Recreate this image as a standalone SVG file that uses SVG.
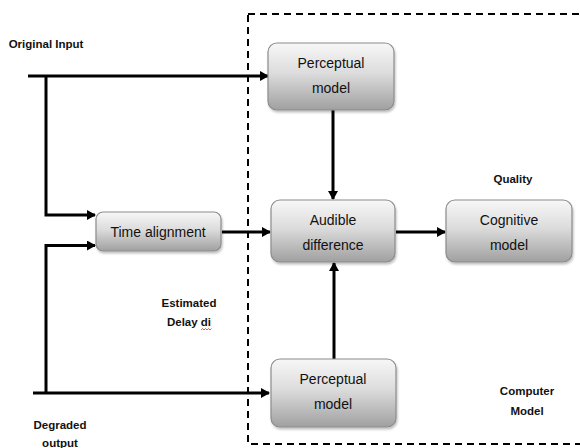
<svg xmlns="http://www.w3.org/2000/svg" width="580" height="448" viewBox="0 0 580 448">
<style>
.box{fill:url(#g);stroke:#8c8c8c;stroke-width:1.2;filter:url(#sh)}
.nt{font-family:"Liberation Sans",Arial,sans-serif;font-size:14px;fill:#111;text-anchor:middle}
.lb{font-family:"Liberation Sans",Arial,sans-serif;font-size:11.5px;font-weight:bold;fill:#111;text-anchor:middle}
.ln{fill:none;stroke:#000;stroke-width:3}
.dash{fill:none;stroke:#000;stroke-width:2;stroke-dasharray:7 5}
</style>
<defs>
<linearGradient id="g" x1="0" y1="0" x2="0" y2="1">
<stop offset="0" stop-color="#f7f7f7"/>
<stop offset="0.45" stop-color="#dcdcdc"/>
<stop offset="1" stop-color="#a0a0a0"/>
</linearGradient>
<filter id="sh" x="-10%" y="-10%" width="125%" height="130%">
<feDropShadow dx="1" dy="2" stdDeviation="1.2" flood-color="#000" flood-opacity="0.25"/>
</filter>
<marker id="ar" markerWidth="10" markerHeight="10" refX="8" refY="5" orient="auto" markerUnits="userSpaceOnUse">
<path d="M0,0 L9,5 L0,10 Z" fill="#000"/>
</marker>
</defs>
<rect class="dash" x="248" y="14" width="360" height="430"/>
<g id="connectors">
<path class="ln" d="M28,76 H268" marker-end="url(#ar)"/>
<path class="ln" d="M46,76 V215 H95" marker-end="url(#ar)"/>
<path class="ln" d="M33,393 H269" marker-end="url(#ar)"/>
<path class="ln" d="M46,393 V245.5 H95" marker-end="url(#ar)"/>
<path class="ln" d="M222,232 H270" marker-end="url(#ar)"/>
<path class="ln" d="M333,110 V199" marker-end="url(#ar)"/>
<path class="ln" d="M396,232 H445" marker-end="url(#ar)"/>
<path class="ln" d="M334,359 V263" marker-end="url(#ar)"/>
</g>
<g id="perceptual-top">
<rect class="box" x="268" y="43" width="126" height="67" rx="9"/>
<text class="nt" x="331" y="68">Perceptual</text>
<text class="nt" x="331" y="93">model</text>
</g>
<g id="time-alignment">
<rect class="box" x="96" y="212" width="125" height="39" rx="7"/>
<text class="nt" x="158" y="237">Time alignment</text>
</g>
<g id="audible-difference">
<rect class="box" x="271" y="200" width="124" height="62" rx="9"/>
<text class="nt" x="333" y="225">Audible</text>
<text class="nt" x="333" y="250">difference</text>
</g>
<g id="cognitive-model">
<rect class="box" x="446" y="200" width="126" height="62" rx="9"/>
<text class="nt" x="509" y="225">Cognitive</text>
<text class="nt" x="509" y="250">model</text>
</g>
<g id="perceptual-bottom">
<rect class="box" x="271" y="359" width="125" height="68" rx="9"/>
<text class="nt" x="333" y="384">Perceptual</text>
<text class="nt" x="333" y="409">model</text>
</g>
<g id="labels">
<text class="lb" x="46" y="48">Original Input</text>
<text class="lb" x="513" y="183">Quality</text>
<text class="lb" x="189" y="307">Estimated</text>
<text class="lb" x="189" y="326">Delay di</text>
<path d="M201,330 l1.5,-1.5 l1.5,1.5 l1.5,-1.5 l1.5,1.5 l1.5,-1.5 l1.5,1.5 l1.5,-1.5" fill="none" stroke="#e03030" stroke-width="0.8"/>
<text class="lb" x="527" y="395">Computer</text>
<text class="lb" x="527" y="415">Model</text>
<text class="lb" x="60" y="429">Degraded</text>
<text class="lb" x="60" y="447">output</text>
</g>
</svg>
